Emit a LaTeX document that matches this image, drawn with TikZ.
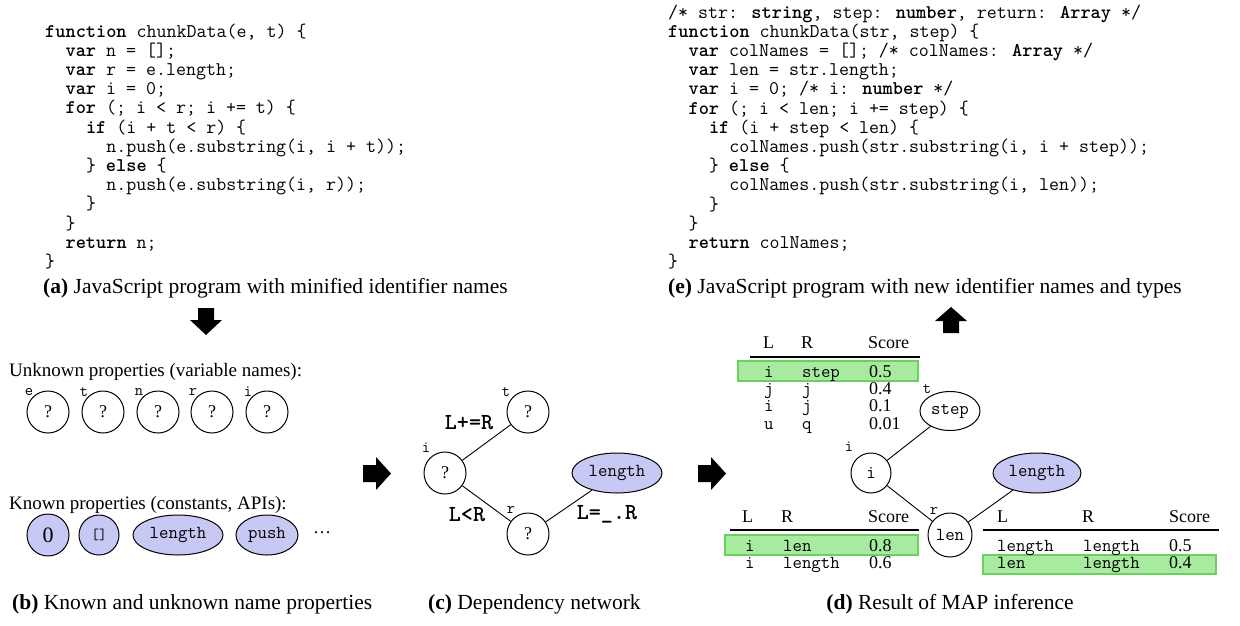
\documentclass[tikz,border=0pt]{standalone}
\usepackage{fontspec}
\setmainfont{Liberation Serif}
\usetikzlibrary{shapes.geometric}
\definecolor{lav}{RGB}{200,200,245}
\definecolor{gfill}{RGB}{168,235,160}
\definecolor{gline}{RGB}{108,208,96}
\tikzset{
  code/.style={anchor=base west,inner sep=0pt,font=\fontsize{19.4}{21}\selectfont\ttfamily},
  captxt/.style={anchor=base west,inner sep=0pt,font=\fontsize{21.5}{24}\selectfont},
  bodytxt/.style={anchor=base west,inner sep=0pt,font=\fontsize{19}{21}\selectfont},
  unk/.style={circle,draw,line width=1pt,minimum size=42pt,inner sep=0pt,font=\fontsize{18}{20}\selectfont},
  vname/.style={circle,draw,line width=1pt,inner sep=0pt,font=\fontsize{18.3}{20}\selectfont\ttfamily},
  kn/.style={ellipse,draw,line width=1pt,fill=lav,inner sep=0pt,font=\fontsize{18.3}{20}\selectfont\ttfamily},
  lab/.style={inner sep=0pt,font=\fontsize{16}{18}\selectfont\ttfamily},
  rel/.style={inner sep=0pt,font=\fontsize{23}{25}\selectfont\ttfamily\bfseries},
  conn/.style={line width=0.9pt},
  thead/.style={anchor=base west,inner sep=0pt,font=\fontsize{18}{20}\selectfont},
  tcell/.style={anchor=base west,inner sep=0pt,font=\fontsize{18.3}{20}\selectfont\ttfamily},
  tnum/.style={anchor=base west,inner sep=0pt,font=\fontsize{18}{20}\selectfont},
  trule/.style={line width=1.4pt},
  hlbox/.style={fill=gfill,draw=gline,line width=1.2pt},
  blk/.style={fill=black}
}
\begin{document}
\begin{tikzpicture}[x=1pt,y=-1pt]
\useasboundingbox (0,0) rectangle (1240,625);
\fill[white] (0,0) rectangle (1240,625);

% ---------- (a) code ----------
\node[code] (a0) at (45,37) {\textbf{function} chunkData(e, t) \{};
\node[code] (a1) at (65.4,56.2) {\textbf{var} n = [];};
\node[code] (a2) at (65.4,75.4) {\textbf{var} r = e.length;};
\node[code] (a3) at (65.4,94.6) {\textbf{var} i = 0;};
\node[code] (a4) at (65.4,113.8) {\textbf{for} (; i < r; i += t) \{};
\node[code] (a5) at (85.8,133) {\textbf{if} (i + t < r) \{};
\node[code] (a6) at (106.2,152.2) {n.push(e.substring(i, i + t));};
\node[code] (a7) at (85.8,171.4) {\} \textbf{else} \{};
\node[code] (a8) at (106.2,190.6) {n.push(e.substring(i, r));};
\node[code] (a9) at (85.8,209.8) {\}};
\node[code] (a10) at (65.4,229) {\}};
\node[code] (a11) at (65.4,248.2) {\textbf{return} n;};
\node[code] (a12) at (45,267.4) {\}};
\node[captxt] (capa) at (43,293) {\textbf{(a)} JavaScript program with minified identifier names};

% ---------- (e) code ----------
\node[code] (e0) at (668,18) {/* str: \textbf{string}, step: \textbf{number}, return: \textbf{Array} */};
\node[code] (e1) at (668,37.2) {\textbf{function} chunkData(str, step) \{};
\node[code] (e2) at (688.4,56.4) {\textbf{var} colNames = []; /* colNames: \textbf{Array} */};
\node[code] (e3) at (688.4,75.6) {\textbf{var} len = str.length;};
\node[code] (e4) at (688.4,94.8) {\textbf{var} i = 0; /* i: \textbf{number} */};
\node[code] (e5) at (688.4,114) {\textbf{for} (; i < len; i += step) \{};
\node[code] (e6) at (708.8,133.2) {\textbf{if} (i + step < len) \{};
\node[code] (e7) at (729.2,152.4) {colNames.push(str.substring(i, i + step));};
\node[code] (e8) at (708.8,171.6) {\} \textbf{else} \{};
\node[code] (e9) at (729.2,190.8) {colNames.push(str.substring(i, len));};
\node[code] (e10) at (708.8,210) {\}};
\node[code] (e11) at (688.4,229.2) {\}};
\node[code] (e12) at (688.4,248.4) {\textbf{return} colNames;};
\node[code] (e13) at (668,267.6) {\}};
\node[captxt] (cape) at (668,293) {\textbf{(e)} JavaScript program with new identifier names and types};

% ---------- block arrows ----------
\fill[blk] (198,308) -- (214,308) -- (214,320) -- (222,320) -- (206,335) -- (190,320) -- (198,320) -- cycle;
\fill[blk] (943,333) -- (959,333) -- (959,321) -- (967,321) -- (951,307) -- (935,321) -- (943,321) -- cycle;
\fill[blk] (363,465) -- (376,465) -- (376,457) -- (391,473.5) -- (376,490) -- (376,482) -- (363,482) -- cycle;
\fill[blk] (698,465) -- (711,465) -- (711,457) -- (726,473.5) -- (711,490) -- (711,482) -- (698,482) -- cycle;

% ---------- (b) ----------
\node[bodytxt] (unkt) at (9,376) {Unknown properties (variable names):};
\node[unk] (ue) at (48,412) {?};
\node[unk] (ut) at (103,412) {?};
\node[unk] (un) at (158,412) {?};
\node[unk] (ur) at (212,412) {?};
\node[unk] (ui) at (267,412) {?};
\node[lab] (le) at (29,392) {e};
\node[lab] (lt) at (84,392) {t};
\node[lab] (ln) at (139,392) {n};
\node[lab] (lr) at (193,392) {r};
\node[lab] (li) at (248,392) {i};
\node[bodytxt] (knt) at (9,509) {Known properties (constants, APIs):};
\node[kn,circle,minimum size=42pt,font=\fontsize{22}{24}\selectfont] (k0) at (48,535) {0};
\node[kn,circle,minimum size=40pt,font=\fontsize{15}{17}\selectfont\ttfamily] (kb) at (99,535) {[]};
\node[kn,minimum width=90pt,minimum height=40pt] (kl) at (178,535) {length};
\node[kn,minimum width=62pt,minimum height=40pt] (kp) at (267,535) {push};
\node[inner sep=0pt,font=\fontsize{18}{20}\selectfont] (kd) at (322,533) {\dots};
\node[captxt] (capb) at (12,609) {\textbf{(b)} Known and unknown name properties};

% ---------- (c) ----------
\node[unk] (ct) at (528,412) {?};
\node[unk] (ci) at (445,473) {?};
\node[unk] (cr) at (528,534) {?};
\node[kn,minimum width=90pt,minimum height=40pt] (cl) at (617,473) {length};
\node[lab] (lct) at (506,392) {t};
\node[lab] (lci) at (426,448) {i};
\node[lab] (lcr) at (511,510) {r};
\draw[conn] (ci) -- (ct);
\draw[conn] (ci) -- (cr);
\draw[conn] (cr) -- (cl);
\node[rel] (r1) at (469,423) {L+=R};
\node[rel] (r2) at (467,515) {L<R};
\node[rel] (r3) at (607,514) {L=\_.R};
\node[captxt] (capc) at (428,609) {\textbf{(c)} Dependency network};

% ---------- (d) ----------
% top table
\draw[hlbox] (738,361) rectangle (918,381);
\node[thead] (h1l) at (763,348) {L};
\node[thead] (h1r) at (801,348) {R};
\node[thead] (h1s) at (868,348) {Score};
\draw[trule] (750,357) -- (920,357);
\node[tcell] (t1a) at (764,377) {i};
\node[tcell] (t1b) at (802,377) {step};
\node[tnum] (t1c) at (869,377) {0.5};
\node[tcell] (t2a) at (764,394) {j};
\node[tcell] (t2b) at (802,394) {j};
\node[tnum] (t2c) at (869,394) {0.4};
\node[tcell] (t3a) at (764,411) {i};
\node[tcell] (t3b) at (802,411) {j};
\node[tnum] (t3c) at (869,411) {0.1};
\node[tcell] (t4a) at (764,429) {u};
\node[tcell] (t4b) at (802,429) {q};
\node[tnum] (t4c) at (869,429) {0.01};

% graph
\node[kn,fill=white,minimum width=60pt,minimum height=39pt] (dstep) at (950,411) {step};
\node[vname,minimum size=40pt] (di) at (871,473) {i};
\node[kn,minimum width=88pt,minimum height=40pt] (dl) at (1037,473) {length};
\node[vname,minimum size=44pt] (dlen) at (950,535) {len};
\node[lab] (ldt) at (927,389) {t};
\node[lab] (ldi) at (849,447) {i};
\node[lab] (ldr) at (934,511) {r};
\draw[conn] (di) -- (dstep);
\draw[conn] (di) -- (dlen);
\draw[conn] (dlen) -- (dl);

% bottom-left table
\draw[hlbox] (725,535) rectangle (918,555);
\node[thead] (h2l) at (742,522) {L};
\node[thead] (h2r) at (781,522) {R};
\node[thead] (h2s) at (868,522) {Score};
\draw[trule] (730,530) -- (919,530);
\node[tcell] (u1a) at (745,551) {i};
\node[tcell] (u1b) at (783,551) {len};
\node[tnum] (u1c) at (869,551) {0.8};
\node[tcell] (u2a) at (745,568) {i};
\node[tcell] (u2b) at (783,568) {length};
\node[tnum] (u2c) at (869,568) {0.6};

% bottom-right table
\draw[hlbox] (983,555) rectangle (1216,574);
\node[thead] (h3l) at (997,522) {L};
\node[thead] (h3r) at (1082,522) {R};
\node[thead] (h3s) at (1169,522) {Score};
\draw[trule] (983,530) -- (1219,530);
\node[tcell] (v1a) at (997,551) {length};
\node[tcell] (v1b) at (1083,551) {length};
\node[tnum] (v1c) at (1169,551) {0.5};
\node[tcell] (v2a) at (997,568) {len};
\node[tcell] (v2b) at (1083,568) {length};
\node[tnum] (v2c) at (1169,568) {0.4};

\node[captxt,anchor=base] (capd) at (950,609) {\textbf{(d)} Result of MAP inference};
\end{tikzpicture}
\end{document}
